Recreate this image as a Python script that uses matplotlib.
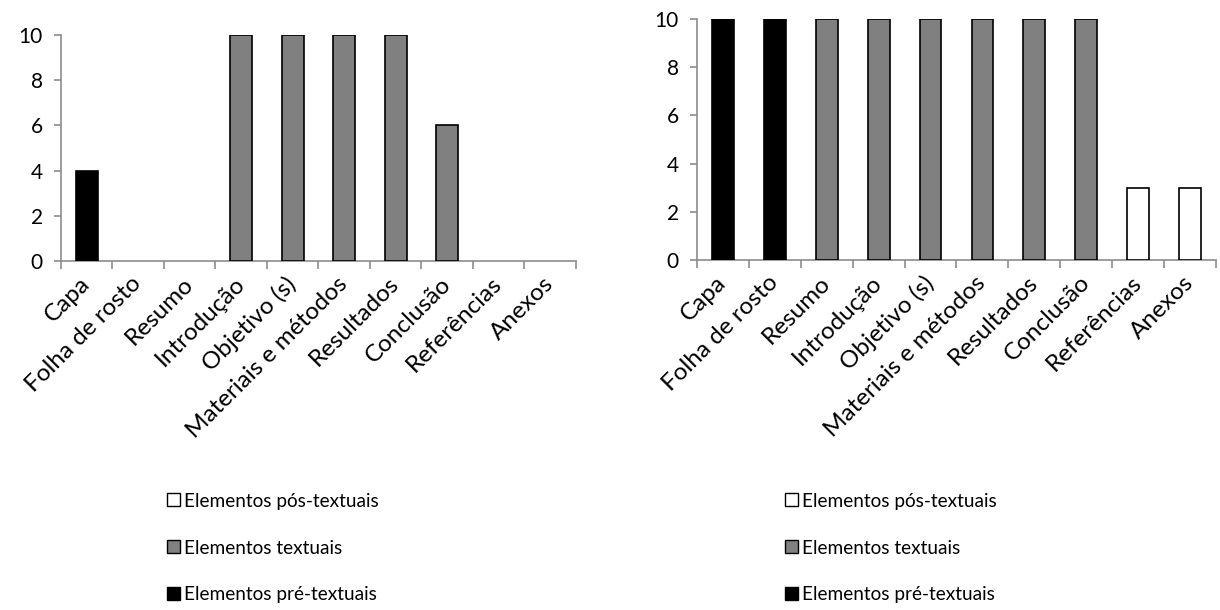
import matplotlib

matplotlib.use("Agg")
import matplotlib.pyplot as plt
import numpy as np
from matplotlib.ticker import FixedLocator

plt.rcParams["font.family"] = ["Lato", "DejaVu Sans"]

categories = ["Capa", "Folha de rosto", "Resumo", "Introdução", "Objetivo (s)",
              "Materiais e métodos", "Resultados", "Conclusão", "Referências", "Anexos"]
series_names = ["Elementos pré-textuais", "Elementos textuais", "Elementos pós-textuais"]
series_colors = ["#000000", "#808080", "#ffffff"]

left_pre = [4, 0, 0, 0, 0, 0, 0, 0, 0, 0]
left_text = [0, 0, 0, 10, 10, 10, 10, 6, 0, 0]
left_pos = [0, 0, 0, 0, 0, 0, 0, 0, 0, 0]

right_pre = [10, 10, 0, 0, 0, 0, 0, 0, 0, 0]
right_text = [0, 0, 10, 10, 10, 10, 10, 10, 0, 0]
right_pos = [0, 0, 0, 0, 0, 0, 0, 0, 3, 3]

AXIS_GREY = "#8c8c8c"
XFS = 17.5
YFS = 15
LFS = 13.7


def draw_panel(ax, series, legend_xy):
    xs = np.arange(len(categories))
    handles = []
    for vals, name, color in zip(series, series_names, series_colors):
        vals = np.asarray(vals, dtype=float)
        mask = vals > 0
        ax.bar(xs[mask], vals[mask], width=0.42, color=color,
               edgecolor="black", linewidth=1.2, zorder=3)
        handles.append(plt.Rectangle((0, 0), 1, 1, facecolor=color,
                                     edgecolor="black", linewidth=1.0, label=name))
    ax.set_xlim(-0.5, len(categories) - 0.5)
    ax.set_ylim(0, 10)
    ax.set_yticks([0, 2, 4, 6, 8, 10])
    ax.set_xticks(xs)
    ax.set_xticklabels(categories, rotation=45, ha="right", va="center",
                       rotation_mode="anchor", fontsize=XFS)
    ax.tick_params(axis="x", which="major", length=0, pad=14)
    ax.xaxis.set_minor_locator(FixedLocator(np.arange(-0.5, len(categories), 1.0)))
    ax.tick_params(axis="x", which="minor", length=6, width=1.2, color=AXIS_GREY,
                   direction="out")
    ax.tick_params(axis="y", length=5, width=1.2, color=AXIS_GREY, labelsize=YFS, pad=8)
    for side in ["top", "right"]:
        ax.spines[side].set_visible(False)
    for side in ["left", "bottom"]:
        ax.spines[side].set_color(AXIS_GREY)
        ax.spines[side].set_linewidth(1.2)
    leg = ax.legend(handles=handles[::-1], loc="center left",
                    bbox_to_anchor=legend_xy, bbox_transform=ax.figure.transFigure,
                    frameon=False, fontsize=LFS, handlelength=0.68, handleheight=0.68,
                    handletextpad=0.2, labelspacing=1.57, borderpad=0, borderaxespad=0)
    return leg


fig = plt.figure(figsize=(12.2, 6.1), dpi=100)
ax1 = fig.add_axes([0.05, 0.572, 0.4221, 0.3706])
ax2 = fig.add_axes([0.5713, 0.5738, 0.4254, 0.3951])

draw_panel(ax1, [left_pre, left_text, left_pos], (167 / 1220, 1 - 548 / 610))
draw_panel(ax2, [right_pre, right_text, right_pos], (785 / 1220, 1 - 548 / 610))

fig.savefig("out.png", dpi=100)
plt.close(fig)
